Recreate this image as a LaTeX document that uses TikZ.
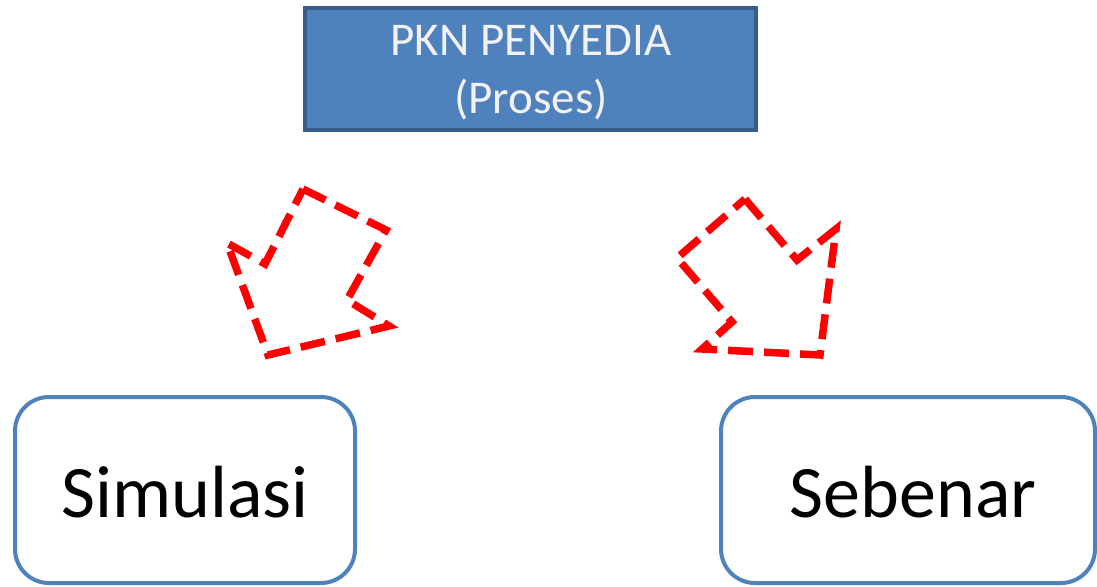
\documentclass[tikz,border=0pt]{standalone}
\usepackage{fontspec}
\setmainfont{Carlito}
\begin{document}
\begin{tikzpicture}[x=1pt,y=-1pt,
  topbox/.style={draw=topborder,fill=topfill,line width=3.5pt,minimum width=451pt,minimum height=122pt,inner sep=0pt},
  toptext/.style={text=toptextc,font=\fontsize{47}{54}\selectfont,anchor=base,inner sep=0pt},
  outbox/.style={draw=outline,line width=4pt,rounded corners=34pt},
  outtext/.style={text=black,font=\fontsize{74}{80}\selectfont,anchor=base,inner sep=0pt},
  redarrow/.style={draw=red,line width=7.5pt,dash pattern=on 25pt off 11pt,line join=miter}]
\definecolor{topfill}{HTML}{4F81BD}
\definecolor{topborder}{HTML}{385D8A}
\definecolor{toptextc}{HTML}{F2F2F2}
\definecolor{outline}{HTML}{4F81BD}
\useasboundingbox (0,0) rectangle (1097,586);
% top box
\node[topbox] (pkn) at (530.5,69) {};
\node[toptext] (pkn1) at (531,56) {PKN PENYEDIA};
\node[toptext] (pkn2) at (531,113) {(Proses)};
% bottom boxes
\draw[outbox] (15,397) rectangle (355,583);
\node[outtext] (sim) at (185,517) {Simulasi};
\draw[outbox] (721,397) rectangle (1095,583);
\node[outtext] (seb) at (913,517) {Sebenar};
% left dashed arrow
\draw[redarrow] (303,189) -- (386,230) -- (347,300) -- (389,326) -- (268,355) -- (227,243) -- (265,264) -- cycle;
% right dashed arrow
\draw[redarrow] (745,199) -- (797,260) -- (836,229) -- (820,355) -- (702,349) -- (732,322) -- (677,258) -- cycle;
\end{tikzpicture}
\end{document}
